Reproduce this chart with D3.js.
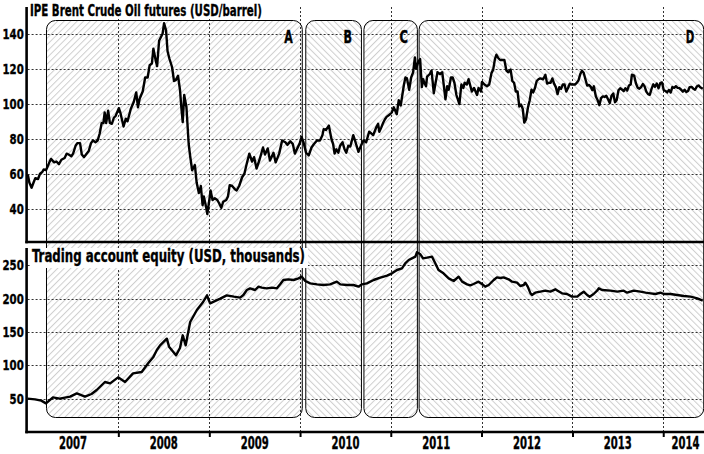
<!DOCTYPE html>
<html><head><meta charset="utf-8">
<script src="https://cdn.jsdelivr.net/npm/d3@7"></script>
<style>
html,body{margin:0;padding:0;background:#fff;}
svg{display:block;}
text{font-family:"Liberation Sans Narrow","DejaVu Sans Condensed","Arial Narrow",sans-serif;font-weight:bold;fill:#000;stroke:#000;stroke-width:0.35px;}
</style></head>
<body><svg id="c" width="704" height="454"></svg>
<script>
// ---------- data ----------
const brentDates = [
"2007-01-02","2007-01-08","2007-01-17","2007-01-25","2007-02-01","2007-02-12","2007-02-20","2007-03-01","2007-03-07","2007-03-16","2007-03-28","2007-04-05","2007-04-18","2007-04-27","2007-05-07","2007-05-17","2007-05-30","2007-06-07","2007-06-15","2007-06-26","2007-07-03","2007-07-13","2007-07-20","2007-07-31","2007-08-07","2007-08-16","2007-08-24","2007-09-04","2007-09-13","2007-09-21","2007-10-01","2007-10-10","2007-10-18","2007-10-26","2007-11-02","2007-11-07","2007-11-13","2007-11-21","2007-11-28","2007-12-06","2007-12-14","2007-12-21","2007-12-31",
"2008-01-03","2008-01-09","2008-01-22","2008-01-31","2008-02-07","2008-02-20","2008-03-03","2008-03-13","2008-03-20","2008-03-27","2008-04-08","2008-04-18","2008-04-28","2008-05-06","2008-05-15","2008-05-21","2008-05-30","2008-06-05","2008-06-13","2008-06-27","2008-07-03","2008-07-11","2008-07-17","2008-07-24","2008-08-04","2008-08-12","2008-08-19","2008-08-28","2008-09-05","2008-09-11","2008-09-16","2008-09-22","2008-10-01","2008-10-10","2008-10-16","2008-10-24","2008-11-04","2008-11-11","2008-11-20","2008-11-28","2008-12-05","2008-12-10","2008-12-19","2008-12-24",
"2009-01-02","2009-01-06","2009-01-14","2009-01-23","2009-02-02","2009-02-10","2009-02-18","2009-02-26","2009-03-10","2009-03-17","2009-03-24","2009-04-03","2009-04-15","2009-04-21","2009-05-01","2009-05-13","2009-05-22","2009-06-01","2009-06-11","2009-06-22","2009-06-30","2009-07-10","2009-07-22","2009-08-05","2009-08-13","2009-08-24","2009-09-02","2009-09-16","2009-09-25","2009-10-09","2009-10-21","2009-11-03","2009-11-11","2009-11-23","2009-12-03","2009-12-11","2009-12-31",
"2010-01-07","2010-01-15","2010-01-25","2010-02-05","2010-02-16","2010-02-26","2010-03-10","2010-03-22","2010-04-01","2010-04-06","2010-04-15","2010-04-27","2010-05-07","2010-05-14","2010-05-20","2010-05-27","2010-06-04","2010-06-11","2010-06-21","2010-06-29","2010-07-06","2010-07-14","2010-07-22","2010-08-03","2010-08-10","2010-08-24","2010-09-03","2010-09-13","2010-09-24","2010-10-06","2010-10-15","2010-10-22","2010-11-05","2010-11-11","2010-11-16","2010-11-24","2010-12-01","2010-12-08","2010-12-15","2010-12-29",
"2011-01-05","2011-01-13","2011-01-25","2011-02-02","2011-02-10","2011-02-23","2011-03-01","2011-03-07","2011-03-16","2011-03-24","2011-04-01","2011-04-08","2011-04-12","2011-04-22","2011-04-29","2011-05-06","2011-05-11","2011-05-16","2011-05-23","2011-05-27","2011-06-07","2011-06-14","2011-06-23","2011-06-29","2011-07-08","2011-07-18","2011-07-27","2011-08-09","2011-08-16","2011-08-22","2011-08-31","2011-09-07","2011-09-14","2011-09-22","2011-10-04","2011-10-12","2011-10-20","2011-10-25","2011-11-03","2011-11-10","2011-11-23","2011-12-02","2011-12-14","2011-12-20","2011-12-30",
"2012-01-03","2012-01-13","2012-01-23","2012-02-01","2012-02-10","2012-02-17","2012-02-24","2012-03-01","2012-03-09","2012-03-16","2012-03-26","2012-04-02","2012-04-10","2012-04-18","2012-04-27","2012-05-04","2012-05-11","2012-05-18","2012-05-25","2012-06-01","2012-06-08","2012-06-15","2012-06-21","2012-06-28","2012-07-06","2012-07-13","2012-07-20","2012-07-27","2012-08-03","2012-08-10","2012-08-17","2012-08-24","2012-09-05","2012-09-14","2012-09-21","2012-09-28","2012-10-05","2012-10-12","2012-10-19","2012-10-26","2012-11-02","2012-11-09","2012-11-16","2012-11-23","2012-11-30","2012-12-07","2012-12-14","2012-12-21","2012-12-28",
"2013-01-04","2013-01-11","2013-01-18","2013-01-25","2013-02-01","2013-02-08","2013-02-15","2013-02-22","2013-03-01","2013-03-08","2013-03-15","2013-03-22","2013-03-28","2013-04-05","2013-04-12","2013-04-19","2013-04-26","2013-05-03","2013-05-10","2013-05-17","2013-05-24","2013-05-31","2013-06-07","2013-06-14","2013-06-21","2013-06-28","2013-07-05","2013-07-12","2013-07-19","2013-07-26","2013-08-02","2013-08-09","2013-08-16","2013-08-23","2013-08-28","2013-09-06","2013-09-13","2013-09-20","2013-09-27","2013-10-04","2013-10-11","2013-10-18","2013-10-25","2013-11-01","2013-11-08","2013-11-15","2013-11-22","2013-11-29","2013-12-06","2013-12-13","2013-12-20","2013-12-27",
"2014-01-03","2014-01-10","2014-01-17","2014-01-24","2014-01-31","2014-02-07","2014-02-14","2014-02-21","2014-02-28","2014-03-07","2014-03-14","2014-03-21","2014-03-28","2014-04-04","2014-04-11","2014-04-17","2014-04-25","2014-05-02","2014-05-09","2014-05-16","2014-05-23","2014-05-30","2014-06-09"];
const brentValues = [
59.5,55,52,55,57.5,57,60,61,62.5,62,66,68.5,66.5,67,65.5,68,69,71.5,71,70,71.5,76,77.5,77.5,71,69.5,71,73,77.5,79,78,79,83,89,89,95,89,96,89,88.5,92,93,96.5,
97.5,95,87,91.5,90,97,101,106.5,98,103,107,115,115,122,123,131.5,125,121.5,136,140,146,142,130,126,121,113,113.5,116,108,97,89.5,105,98,77,70,62,65,55,49,53,42,47,41,37,
46,50.5,45,46,45,43,40.5,44,45,47,53.5,53,51,50.5,53,58,60,66,71.5,67,69.5,63,68,75,71,74.5,67.5,72,66.5,71.5,79,78,76.5,78.5,77,71.5,77.5,
81,78,72,70.5,75,77,79,79,82,85.5,85,87.5,80,77,71.5,74,72,76,78,74,72,76,75.5,82,79,72.5,76,79,78,84,83,82,87,88.5,84,86.5,89,91,92.5,94,
95,98,94,102,99,111,115,114.5,108,115,118,126.5,120,124,125.5,109.5,114,112,110,115.5,117,119,106,111,118,117,118,102.5,110,108,115,115,112,105,99.8,111,109,112,111,114,107,109,105,109,107,
112.5,111,110,111,117.5,119.5,125.5,128,126,125,125,125,119,118,119.5,113,112,107,107,98.4,99.5,97,89.2,91,98,102,108,106.5,109,113,114,114.5,114,116.5,111.5,112,112,114.5,111.5,109.5,105.5,109.5,108.5,111,111,107,109,111.5,111,
111,111,111.9,113.3,116.8,118.9,117.7,114,110.4,110.8,109.8,107.8,110,104.1,102.1,99.2,103.2,104.2,103.9,104.6,102.6,100.4,104.6,105.9,100.9,102.2,107.7,108.8,108.1,107.2,108.9,107.5,110.4,111,116.6,116.1,111.7,109.2,108.6,109.5,111.3,109.9,106.9,105.5,105.1,108.5,111.1,109.7,111.6,108.8,111.8,112.2,
107.8,107.3,106.5,107.9,106.4,109.6,109.1,110,109.1,108.9,108,106.9,108,106.7,107.3,109.5,109.6,108.6,108,109.8,110.5,109.4,108.6];

const equityDates = [
"2007-01-01","2007-01-31","2007-02-25","2007-03-16","2007-04-13","2007-05-10","2007-06-21","2007-07-18","2007-08-20","2007-09-15","2007-10-06","2007-11-08","2007-11-29","2007-12-31",
"2008-01-28","2008-02-29","2008-04-04","2008-04-30","2008-05-20","2008-06-04","2008-06-17","2008-07-14","2008-07-23","2008-08-20","2008-09-05","2008-09-16","2008-09-28","2008-10-16","2008-11-12","2008-12-07","2008-12-23",
"2009-01-04","2009-02-14","2009-03-12","2009-04-10","2009-05-05","2009-05-18","2009-06-01","2009-06-14","2009-07-04","2009-07-18","2009-07-31","2009-08-20","2009-09-10","2009-09-30","2009-10-13","2009-10-26","2009-11-15","2009-12-06","2009-12-26",
"2010-01-08","2010-01-22","2010-02-11","2010-03-10","2010-04-05","2010-05-02","2010-05-29","2010-06-12","2010-07-09","2010-08-04","2010-08-24","2010-09-07","2010-09-27","2010-10-24","2010-11-20","2010-12-17",
"2011-01-06","2011-01-26","2011-02-15","2011-02-28","2011-03-14","2011-03-27","2011-04-10","2011-04-16","2011-04-30","2011-05-11","2011-05-27","2011-06-16","2011-06-29","2011-07-12","2011-08-01","2011-08-22","2011-09-11","2011-10-01","2011-10-15","2011-11-04","2011-11-17","2011-11-30","2011-12-20",
"2012-01-03","2012-01-16","2012-01-30","2012-02-19","2012-03-03","2012-03-17","2012-03-30","2012-04-19","2012-05-03","2012-05-23","2012-06-05","2012-06-19","2012-06-25","2012-07-05","2012-07-16","2012-07-22","2012-08-04","2012-08-25","2012-09-14","2012-10-04","2012-10-24","2012-11-02","2012-11-20","2012-12-10","2012-12-30",
"2013-01-20","2013-02-02","2013-02-15","2013-03-01","2013-03-11","2013-03-27","2013-04-10","2013-04-17","2013-04-30","2013-06-03","2013-06-30","2013-07-26","2013-08-09","2013-08-22","2013-09-04","2013-10-01","2013-10-22","2013-11-11","2013-12-01","2013-12-21",
"2014-01-03","2014-01-30","2014-02-26","2014-03-25","2014-04-21","2014-05-18","2014-06-09"];
const equityValues = [
50,49,47,43,52,50,53,58,53,57,63,75,73,82,
75,88,90,103,112,123,130,140,128,115,126,145,130,165,183,195,205,
193,200,205,203,201.5,205.5,213,215.5,213,218,216.5,215.5,216.5,215.5,221.5,228,229,228,230.5,
233,226.5,223,221.5,220.5,221.5,225.5,221.5,220.5,220.5,218,221.5,223,228,231.5,234.5,
238,243,245.5,253,258,260.5,263,269.5,266.5,260.5,261.5,263,253,243,238,230.5,226.5,233,225.5,221.5,220,222,225.5,
222,218,220.5,228,232,231,232,229,225.5,224,219,220.5,224,218,208,205.5,209,210.5,212,210.5,214,212,208,207,203,
203,207,210.5,205.5,203,207,212,215.5,213,212,210.5,212,209,210.5,212,210.5,209,208,207,209,
207,207,205.5,204,203,200.5,197];

const regionNames  = ["A","B","C","D"];
const regionStarts = ["2007-03-16","2010-01-22","2010-09-13","2011-04-23"];
const regionEnds   = ["2010-01-08","2010-09-03","2011-04-16","2014-06-11"];

const topTicks = [40,60,80,100,120,140];
const bottomTicks = [50,100,150,200,250];
const yearLabels = ["2007","2008","2009","2010","2011","2012","2013","2014"];
const topTitle = "IPE Brent Crude Oil futures (USD/barrel)";
const bottomTitle = "Trading account equity (USD, thousands)";

// ---------- scales ----------
const parse = d3.timeParse("%Y-%m-%d");
const svg = d3.select("#c");
const L = 27.6, R = 703;
const x = d3.scaleTime().domain([parse("2007-01-01"), parse("2014-06-10")]).range([L, R]);
const yTop = d3.scaleLinear().domain([21,155]).range([242,7.5]);
const yBot = d3.scaleLinear().domain([0,276]).range([432,248]);

// ---------- patterns ----------
const defs = svg.append("defs");
function hatch(id, angle){
  const p = defs.append("pattern").attr("id",id).attr("patternUnits","userSpaceOnUse")
    .attr("width",4.6).attr("height",4.6).attr("patternTransform",`rotate(${angle})`);
  p.append("rect").attr("width",4.6).attr("height",4.6).attr("fill","#fff");
  p.append("line").attr("x1",0.5).attr("y1",0).attr("x2",0.5).attr("y2",4.6)
    .attr("stroke","#cfcfcf").attr("stroke-width",1);
}
hatch("hA",45); hatch("hB",-45);

// ---------- region boxes ----------
const regions = regionNames.map((n,i)=>({name:n,s:parse(regionStarts[i]),e:parse(regionEnds[i]),fill: i%2===0?"url(#hA)":"url(#hB)"}));
svg.append("g").selectAll("rect").data(regions).join("rect")
  .attr("x",d=>x(d.s)+0.5).attr("y",20.5)
  .attr("width",d=>x(d.e)-x(d.s)).attr("height",397)
  .attr("rx",9).attr("ry",9)
  .attr("fill",d=>d.fill);

// ---------- grid ----------
const years = d3.timeYear.range(parse("2008-01-01"), parse("2014-06-10"));
const grid = svg.append("g").attr("stroke","#333").attr("stroke-width",1).attr("stroke-dasharray","2,2").attr("fill","none");
grid.selectAll("line.vt").data(years).join("line").attr("class","vt")
  .attr("x1",d=>Math.round(x(d))+0.5).attr("x2",d=>Math.round(x(d))+0.5)
  .attr("y1",7).attr("y2",242);
grid.selectAll("line.vb").data(years).join("line").attr("class","vb")
  .attr("x1",d=>Math.round(x(d))+0.5).attr("x2",d=>Math.round(x(d))+0.5)
  .attr("y1",242).attr("y2",432);
grid.selectAll("line.ht").data(topTicks).join("line").attr("class","ht")
  .attr("x1",L).attr("x2",R).attr("y1",d=>Math.round(yTop(d))+0.5).attr("y2",d=>Math.round(yTop(d))+0.5);
grid.selectAll("line.hb").data(bottomTicks).join("line").attr("class","hb")
  .attr("x1",L).attr("x2",R).attr("y1",d=>Math.round(yBot(d))+0.5).attr("y2",d=>Math.round(yBot(d))+0.5);

// box outlines on top of grid
svg.append("g").selectAll("rect").data(regions).join("rect")
  .attr("x",d=>x(d.s)+0.5).attr("y",20.5)
  .attr("width",d=>x(d.e)-x(d.s)).attr("height",397)
  .attr("rx",9).attr("ry",9)
  .attr("fill","none").attr("stroke","#000").attr("stroke-width",1);

svg.append("g").selectAll("text").data(regions).join("text")
  .attr("x",d=>x(d.e)-9).attr("y",43).attr("text-anchor","end")
  .attr("textLength",8.5).attr("lengthAdjust","spacingAndGlyphs")
  .style("font-size","17px").text(d=>d.name);

// ---------- lines ----------
const brent = brentDates.map((d,i)=>({d:parse(d),v:brentValues[i]}));
const equity = equityDates.map((d,i)=>({d:parse(d),v:equityValues[i]}));
svg.append("path").datum(brent).attr("fill","none").attr("stroke","#000").attr("stroke-width",2.4)
  .attr("stroke-linejoin","round")
  .attr("d",d3.line().x(d=>x(d.d)).y(d=>yTop(d.v)));
svg.append("path").datum(equity).attr("fill","none").attr("stroke","#000").attr("stroke-width",2.4)
  .attr("stroke-linejoin","round")
  .attr("d",d3.line().x(d=>x(d.d)).y(d=>yBot(d.v)));

// ---------- axes ----------
const axT = svg.append("g").attr("transform",`translate(23.8,0)`)
  .call(d3.axisLeft(yTop).tickValues(topTicks).tickSize(0).tickPadding(0));
const axB = svg.append("g").attr("transform",`translate(23.8,0)`)
  .call(d3.axisLeft(yBot).tickValues(bottomTicks).tickSize(0).tickPadding(0));
[axT,axB].forEach(a=>{a.select(".domain").remove();
  a.selectAll("text").style("font-size","14.5px").attr("font-family",null).attr("font-size",null)
   .attr("textLength",function(){return this.textContent.length*7.1;}).attr("lengthAdjust","spacingAndGlyphs");});
const axX = svg.append("g").attr("transform","translate(0,432)")
  .call(d3.axisBottom(x).tickValues(years).tickSize(5).tickFormat(""));
axX.select(".domain").remove();
axX.selectAll("line").attr("stroke","#000").attr("stroke-width",2);

const frame = svg.append("g").attr("stroke","#000").attr("stroke-width",2.6).attr("fill","none");
frame.append("line").attr("x1",L-1).attr("x2",L-1).attr("y1",7).attr("y2",243.3);
frame.append("line").attr("x1",L-2.3).attr("x2",R+1).attr("y1",242).attr("y2",242);
frame.append("line").attr("x1",L-1).attr("x2",L-1).attr("y1",248).attr("y2",433.3);
frame.append("line").attr("x1",L-2.3).attr("x2",R+1).attr("y1",432).attr("y2",432);

// year labels centred between year boundaries (last one kept inside the frame),
// horizontally compressed to the narrow look of the original
const yrStarts = yearLabels.map(y=>parse(y+"-01-01"));
const yl = svg.append("g").selectAll("g").data(yearLabels).join("g")
  .attr("transform",(d,i)=>{const a=x(yrStarts[i]);
     const cx = i===yearLabels.length-1 ? R-17.5 : (Math.max(a,L)+x(yrStarts[i+1]))/2;
     return `translate(${cx},448.5)`;});
yl.append("text").attr("text-anchor","middle").style("font-size","17px").text(d=>d)
  .each(function(){const w=this.getComputedTextLength()||28; d3.select(this).attr("transform",`scale(${28/w},1)`);});

// ---------- titles ----------
function title(txt,x0,y0,w,size,bgY,bgH){
  svg.append("rect").attr("x",x0-2).attr("y",bgY).attr("width",w+5).attr("height",bgH).attr("fill","#fff");
  svg.append("text").attr("x",x0).attr("y",y0).style("font-size",size+"px")
    .attr("textLength",w).attr("lengthAdjust","spacingAndGlyphs").text(txt);
}
title(topTitle,30,15.5,232,16,0,18);
title(bottomTitle,32,262,273,17,248,20);
</script></body></html>
